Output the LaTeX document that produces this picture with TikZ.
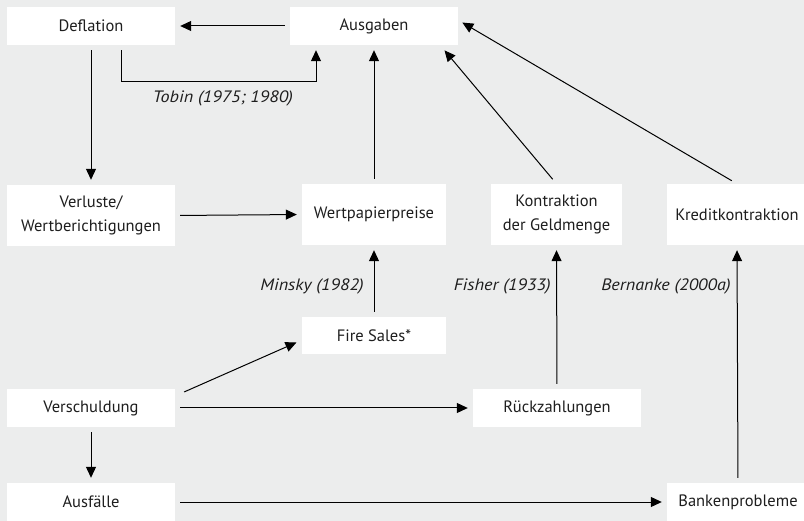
\documentclass[tikz,border=0pt]{standalone}
\usepackage{fontspec}
\setmainfont{PT Sans}
\newfontfamily\labfont{PT Sans}[FakeStretch=1.1]
\usetikzlibrary{arrows.meta}
\definecolor{bgc}{RGB}{236,237,237}
\definecolor{txt}{RGB}{30,30,30}
\tikzset{
  box/.style={fill=white, draw=none, inner sep=0pt, align=center, text=txt, font=\fontsize{16.5}{24}\selectfont},
  arr/.style={draw=black, line width=1pt, -{Triangle[length=11pt,width=10pt]}, shorten >=5pt, shorten <=5pt},
  lab/.style={font=\labfont\fontsize{16.5}{18}\selectfont\itshape, text=txt, inner sep=0pt}
}
\begin{document}
\begin{tikzpicture}[x=1pt,y=-1pt]
\fill[bgc] (0,0) rectangle (804,521);
\useasboundingbox (0,0) rectangle (804,521);
\node[box, minimum width=168pt, minimum height=38pt] (defl) at (91,26) {Deflation};
\node[box, minimum width=168pt, minimum height=38pt] (aus) at (374,26) {Ausgaben};
\node[box, minimum width=168pt, minimum height=61pt] (verl) at (91,215.5) {Verluste/\\Wertberichtigungen};
\node[box, minimum width=144pt, minimum height=61pt] (wert) at (374,214.5) {Wertpapierpreise};
\node[box, minimum width=131pt, minimum height=61pt] (kontr) at (556.5,214.5) {Kontraktion\\der Geldmenge};
\node[box, minimum width=140pt, minimum height=61pt] (kred) at (737,214.5) {Kreditkontraktion};
\node[box, minimum width=144pt, minimum height=37pt] (fire) at (374,335.5) {Fire Sales*};
\node[box, minimum width=168pt, minimum height=38pt] (versch) at (91,408) {Verschuldung};
\node[box, minimum width=168pt, minimum height=38pt] (rueck) at (557,408) {Rückzahlungen};
\node[box, minimum width=168pt, minimum height=38pt] (ausf) at (91,502) {Ausfälle};
\node[box, minimum width=142pt, minimum height=38pt] (bank) at (738,502) {Bankenprobleme};
\coordinate (t1) at (121,82);
\coordinate (t2) at (316,82);
\coordinate (ka) at (440,45);
\coordinate (kra) at (458,20);
\coordinate (vs) at (175,396);
\coordinate (fs) at (302,340);
\draw[arr] (aus.west) -- (defl.east);
\draw[arr] (defl.south) -- (verl.north);
\draw[arr] (defl.south -| t1) -- (t1) -- (t2) -- (aus.south -| t2);
\draw[arr] (wert.north) -- (aus.south);
\draw[arr, shorten <=6pt, shorten >=7pt] (kontr.north) -- (ka);
\draw[arr, shorten <=6pt, shorten >=5pt] (kred.north) -- (kra);
\draw[arr] (verl.east) -- (wert.west);
\draw[arr] (fire.north) -- (wert.south);
\draw[arr, shorten <=10pt, shorten >=6pt] (vs) -- (fs);
\draw[arr] (versch.east) -- (rueck.west);
\draw[arr] (versch.south) -- (ausf.north);
\draw[arr] (rueck.north) -- (kontr.south);
\draw[arr] (ausf.east) -- (bank.west);
\draw[arr] (bank.north) -- (kred.south);
\node[lab] (ltobin) at (223,98) {Tobin (1975; 1980)};
\node[lab, anchor=east] (lminsky) at (364,286) {Minsky (1982)};
\node[lab, anchor=east] (lfisher) at (551,286) {Fisher (1933)};
\node[lab, anchor=east] (lbern) at (731,286) {Bernanke (2000a)};
\end{tikzpicture}
\end{document}
